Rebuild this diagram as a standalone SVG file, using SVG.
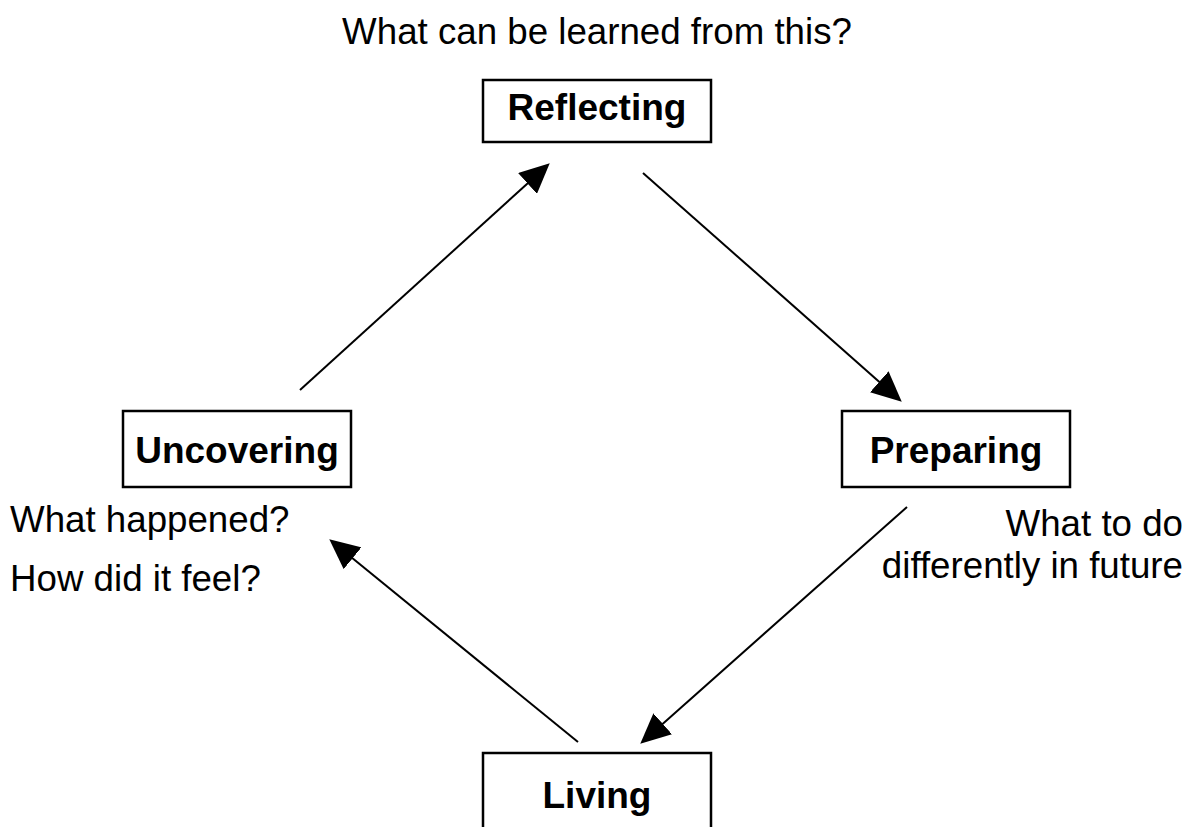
<svg xmlns="http://www.w3.org/2000/svg" width="1192" height="827" viewBox="0 0 1192 827">
<style>
.box{fill:#fff;stroke:#000;stroke-width:2.5}
.lbl{font-family:"Liberation Sans",Arial,sans-serif;font-size:37px;font-weight:bold;fill:#000;text-anchor:middle}
.txt{font-family:"Liberation Sans",Arial,sans-serif;font-size:36.7px;fill:#000}
.edge{stroke:#000;stroke-width:2;fill:none;marker-end:url(#ah)}
</style>
<defs>
<marker id="ah" markerUnits="userSpaceOnUse" markerWidth="30" markerHeight="28" refX="19" refY="14" orient="auto" viewBox="0 0 30 28">
<path d="M0,0 L30,14 L0,28 z" fill="#000"/>
</marker>
</defs>
<rect width="1192" height="827" fill="#fff"/>
<g id="connectors">
<line class="edge" x1="300" y1="390" x2="541.6" y2="170.7"/>
<line class="edge" x1="643" y1="173" x2="893.5" y2="394.4"/>
<line class="edge" x1="907" y1="507" x2="648.5" y2="736.4"/>
<line class="edge" x1="578" y1="742" x2="337.8" y2="546.3"/>
</g>
<g id="reflecting">
<text class="txt" x="597" y="44" text-anchor="middle">What can be learned from this?</text>
<rect class="box" x="483" y="80" width="228" height="62"/>
<text class="lbl" x="597" y="120">Reflecting</text>
</g>
<g id="uncovering">
<rect class="box" x="123" y="411" width="228" height="76"/>
<text class="lbl" x="237" y="463">Uncovering</text>
<text class="txt" x="10" y="532">What happened?</text>
<text class="txt" x="10" y="591">How did it feel?</text>
</g>
<g id="preparing">
<rect class="box" x="842" y="411" width="228" height="76"/>
<text class="lbl" x="956" y="463">Preparing</text>
<text class="txt" x="1183" y="536" text-anchor="end">What to do</text>
<text class="txt" x="1183" y="578" text-anchor="end">differently in future</text>
</g>
<g id="living">
<rect class="box" x="483" y="753" width="228" height="100"/>
<text class="lbl" x="597" y="808">Living</text>
</g>
</svg>
